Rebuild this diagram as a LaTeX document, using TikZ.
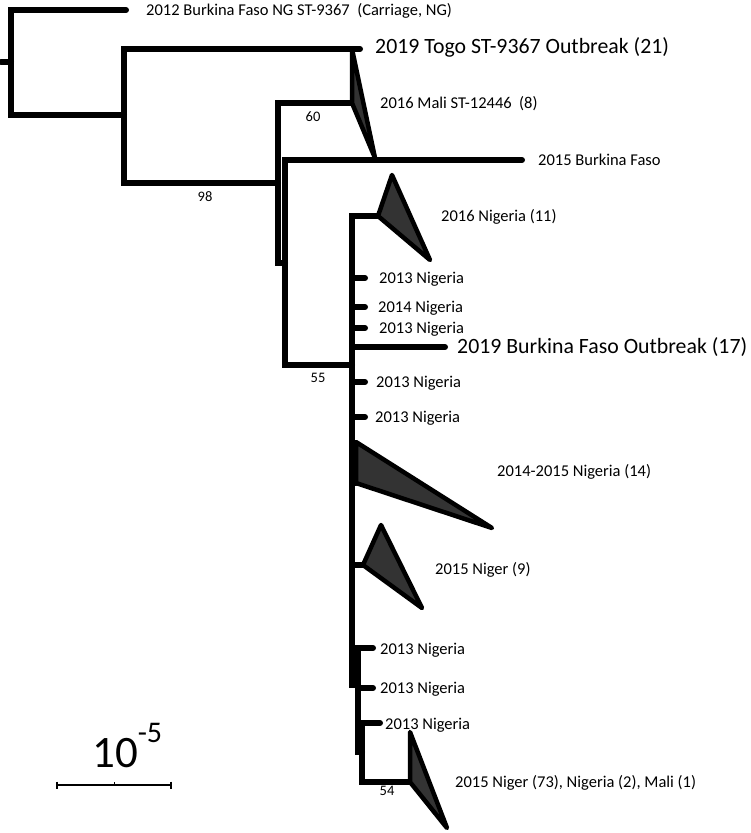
\documentclass[tikz,border=0pt]{standalone}
\usepackage{fontspec}
\setmainfont{Carlito}
\usepackage{tikz}
\usetikzlibrary{shapes}
\tikzstyle{branch} = [draw, line width=6pt, line cap=round, line join=miter]
\tikzstyle{clade} = [draw, fill=black!80, line width=4.5pt, line join=round]
\tikzstyle{tip} = [anchor=west, inner sep=0pt, text height=10.4pt, text depth=0pt,
    font=\fontsize{16.5}{18}\selectfont]
\tikzstyle{bigtip} = [anchor=west, inner sep=0pt, text height=13.8pt, text depth=0pt,
    font=\fontsize{21.8}{24}\selectfont]
\tikzstyle{support} = [inner sep=0pt, text height=9.2pt, text depth=0pt,
    font=\fontsize{14.5}{16}\selectfont]

\begin{document}
\begin{tikzpicture}[x=1pt, y=-1pt]
    \useasboundingbox (0,0) rectangle (750,833);
    % Place internal nodes
    \coordinate (stub) at (1,62);
    \coordinate (root) at (11,62);
    \coordinate (nA) at (124,115);
    \coordinate (nB) at (278,183);
    \coordinate (nC) at (285,263);
    \coordinate (nD) at (352,365);
    \coordinate (nE) at (358,685);
    \coordinate (nF) at (362,752);
    % Place tips
    \coordinate (bf2012) at (126,10);
    \coordinate (togo) at (360,49);
    \coordinate (mali) at (352,103);
    \coordinate (bf2015) at (522,160);
    \coordinate (ng2016) at (378,216);
    \coordinate (ngA) at (365,278);
    \coordinate (ngB) at (365,307);
    \coordinate (ngC) at (365,328);
    \coordinate (bfout) at (445,347);
    \coordinate (ngD) at (365,382);
    \coordinate (ngE) at (365,417);
    \coordinate (ng1415) at (356,483);
    \coordinate (niger9) at (363,565);
    \coordinate (ngF) at (373,648);
    \coordinate (ngG) at (373,688);
    \coordinate (ngH) at (380,723);
    \coordinate (niger73) at (410,782);
    % Draw edges
    \path [branch] (stub) -- (root);
    \path [branch] (root) |- (bf2012);
    \path [branch] (root) |- (nA);
    \path [branch] (nA) |- (togo);
    \path [branch] (nA) |- (nB);
    \path [branch] (nB) |- (mali);
    \path [branch] (nB) |- (nC);
    \path [branch] (nC) |- (bf2015);
    \path [branch] (nC) |- (nD);
    \path [branch] (nD) |- (ng2016);
    \path [branch] (nD) |- (ngA);
    \path [branch] (nD) |- (ngB);
    \path [branch] (nD) |- (ngC);
    \path [branch] (nD) |- (bfout);
    \path [branch] (nD) |- (ngD);
    \path [branch] (nD) |- (ngE);
    \path [branch] (nD) |- (ng1415);
    \path [branch] (nD) |- (niger9);
    \path [branch] (nD) |- (nE);
    \path [branch] (nE) |- (ngF);
    \path [branch] (nE) |- (ngG);
    \path [branch] (nE) |- (nF);
    \path [branch] (nF) |- (ngH);
    \path [branch] (nF) |- (niger73);
    % Collapsed clades
    \path [clade] (mali) -- +(0,-54) -- +(23,55) -- cycle;
    \path [clade] (ng2016) -- +(14,-41) -- +(52,44) -- cycle;
    \path [clade] (ng1415) -- +(0,-41) -- +(136,45) -- cycle;
    \path [clade] (niger9) -- +(18,-40) -- +(59,43) -- cycle;
    \path [clade] (niger73) -- +(0,-50) -- +(37,46) -- cycle;
    % Tip labels
    \node [tip] (lbf2012) at (146,10) {2012 Burkina Faso NG ST-9367\ \ (Carriage, NG)};
    \node [bigtip] (ltogo) at (375,47) {2019 Togo ST-9367 Outbreak (21)};
    \node [tip] (lmali) at (380,103) {2016 Mali ST-12446\ \ (8)};
    \node [tip] (lbf2015) at (538,160) {2015 Burkina Faso};
    \node [tip] (lng2016) at (441,216) {2016 Nigeria (11)};
    \node [tip] (lngA) at (379,278) {2013 Nigeria};
    \node [tip] (lngB) at (378,307) {2014 Nigeria};
    \node [tip] (lngC) at (379,328) {2013 Nigeria};
    \node [bigtip] (lbfout) at (457,347) {2019 Burkina Faso Outbreak (17)};
    \node [tip] (lngD) at (376,382) {2013 Nigeria};
    \node [tip] (lngE) at (375,417) {2013 Nigeria};
    \node [tip] (lng1415) at (497,471) {2014-2015 Nigeria (14)};
    \node [tip] (lniger9) at (435,569) {2015 Niger (9)};
    \node [tip] (lngF) at (380,649) {2013 Nigeria};
    \node [tip] (lngG) at (380,688) {2013 Nigeria};
    \node [tip] (lngH) at (385,724) {2013 Nigeria};
    \node [tip] (lniger73) at (455,782) {2015 Niger (73), Nigeria (2), Mali (1)};
    % Support values
    \node [support] (s98) at (205,197) {98};
    \node [support] (s60) at (313,117) {60};
    \node [support] (s55) at (318,378) {55};
    \node [support] (s54) at (387,791) {54};
    % Scale bar
    \coordinate (sbl) at (57,785);
    \coordinate (sbm) at (114,785);
    \coordinate (sbr) at (171,785);
    \draw [line width=1.3pt] (sbl) -- (sbr);
    \draw [line width=1.3pt] (sbl) ++(0,-3.5) -- ++(0,7);
    \draw [line width=1.3pt] (sbr) ++(0,-3.5) -- ++(0,7);
    \draw [line width=0.8pt] (sbm) -- ++(0,-3);
    \node [anchor=base west, inner sep=0pt, font=\fontsize{45}{45}\selectfont] (scale) at (92,767)
        {10\raisebox{25pt}{\fontsize{30}{30}\selectfont -5}};
\end{tikzpicture}
\end{document}
